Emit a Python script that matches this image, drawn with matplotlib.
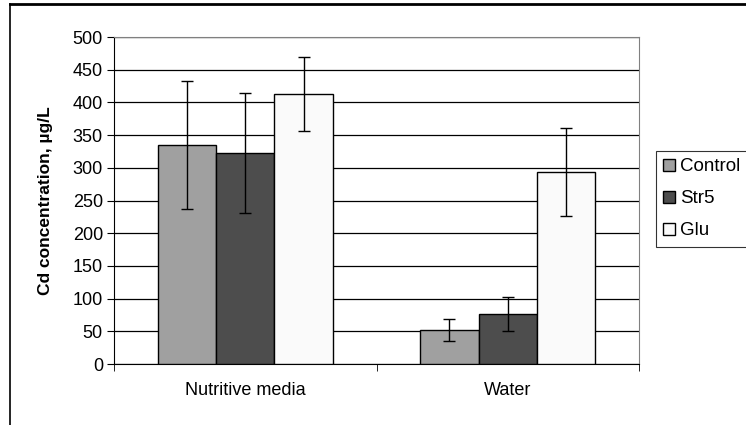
import matplotlib.pyplot as plt
import numpy as np
from matplotlib.lines import Line2D

plt.rcParams['font.family'] = ['Liberation Sans', 'DejaVu Sans']

groups = ['Nutritive media', 'Water']
series = ['Control', 'Str5', 'Glu']
control = [335, 52]
control_err = [98, 17]
str5 = [323, 77]
str5_err = [92, 26]
glu = [413, 294]
glu_err = [56, 67]
colors = ['#a0a0a0', '#4d4d4d', '#fafafa']

fig = plt.figure(figsize=(7.46, 4.25), dpi=100)
ax = fig.add_axes([0.1528, 0.1435, 0.7038, 0.7694])

x = np.arange(len(groups))
w = 0.222
for i, (vals, errs) in enumerate([(control, control_err), (str5, str5_err), (glu, glu_err)]):
    ax.bar(x + (i - 1) * w, vals, w, color=colors[i], edgecolor='black', linewidth=1,
           label=series[i], zorder=3,
           yerr=errs, error_kw=dict(ecolor='black', elinewidth=1, capsize=4.3, capthick=1, zorder=4))

ax.set_xlim(-0.5, 1.5)
ax.set_ylim(0, 500)
ax.set_yticks(np.arange(0, 501, 50))
ax.yaxis.grid(True, color='black', linewidth=0.9, zorder=0)
ax.set_axisbelow(True)
ax.set_xticks(x)
ax.set_xticklabels(groups, fontsize=13)
ax.set_xticks([-0.5, 0.5, 1.5], minor=True)
ax.tick_params(axis='x', which='major', length=0, pad=13)
ax.tick_params(axis='x', which='minor', length=5, direction='out', color='black')
ax.tick_params(axis='y', length=5, direction='out', labelsize=13, pad=3)
for s in ['top', 'right']:
    ax.spines[s].set_color('#808080')
ax.spines['left'].set_color('black')
ax.spines['bottom'].set_color('black')

ax.set_ylabel('Cd concentration, µg/L', fontsize=12.5, fontweight='bold', labelpad=14)

leg = ax.legend(loc='center left', bbox_to_anchor=(1.032, 0.505), frameon=True, fancybox=False,
                edgecolor='black', fontsize=13.5, handlelength=0.6, handleheight=0.6,
                handletextpad=0.3, borderpad=0.4, labelspacing=0.8, borderaxespad=0)
leg.get_frame().set_linewidth(0.8)

# outer chart frame (cropped)
fig.add_artist(Line2D([10 / 746, 1.0], [1 - 4 / 425, 1 - 4 / 425], color='black', linewidth=2,
                      transform=fig.transFigure))
fig.add_artist(Line2D([10 / 746, 10 / 746], [0, 1 - 4 / 425], color='black', linewidth=1.2,
                      transform=fig.transFigure))

fig.savefig('out.png', dpi=100)
